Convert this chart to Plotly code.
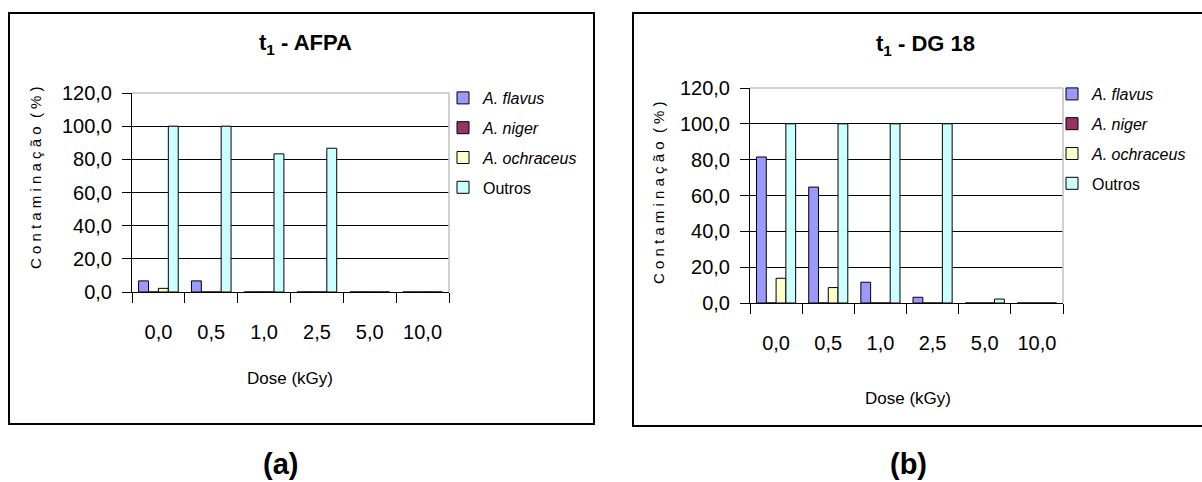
import plotly.graph_objects as go

# ---- data ----
doses = ["0,0", "0,5", "1,0", "2,5", "5,0", "10,0"]
series_names = ["<i>A. flavus</i>", "<i>A. niger</i>", "<i>A. ochraceus</i>", "Outros"]
series_colors = ["#9999FF", "#993366", "#FFFFCC", "#CCFFFF"]

# (a) t1 - AFPA
afpa_flavus = [6.7, 6.7, 0.0, 0.0, 0.0, 0.0]
afpa_niger = [0.0, 0.0, 0.0, 0.0, 0.0, 0.0]
afpa_ochraceus = [2.2, 0.0, 0.0, 0.0, 0.0, 0.0]
afpa_outros = [100.0, 100.0, 83.3, 86.7, 0.0, 0.0]

# (b) t1 - DG 18
dg18_flavus = [81.5, 64.7, 11.6, 3.2, 0.0, 0.0]
dg18_niger = [0.0, 0.0, 0.0, 0.0, 0.0, 0.0]
dg18_ochraceus = [13.8, 8.6, 0.0, 0.0, 0.0, 0.0]
dg18_outros = [100.0, 100.0, 100.0, 100.0, 2.2, 0.0]

y_ticks = [0, 20, 40, 60, 80, 100, 120]

titles = ["t<sub>1</sub> - AFPA", "t<sub>1</sub> - DG 18"]
captions = ["(a)", "(b)"]
x_title = "Dose (kGy)"
y_title = "C o n t a m i n a ç ã o  ( % )"

FONT = "Liberation Sans, Arial, sans-serif"
W, H = 1202, 482


def px(x):
    return x / W


def py(y):
    return 1 - y / H


fig = go.Figure()

panels = [
    (dict(xa="x", ya="y", leg="legend"),
     [afpa_flavus, afpa_niger, afpa_ochraceus, afpa_outros]),
    (dict(xa="x2", ya="y2", leg="legend2"),
     [dg18_flavus, dg18_niger, dg18_ochraceus, dg18_outros]),
]

for p, (ref, data) in enumerate(panels):
    for i, vals in enumerate(data):
        fig.add_trace(go.Bar(
            x=doses, y=vals, name=series_names[i],
            marker=dict(color=series_colors[i], line=dict(color="black", width=1)),
            xaxis=ref["xa"], yaxis=ref["ya"], legend=ref["leg"],
            legendgroup=f"p{p}s{i}",
        ))

axis_common_x = dict(
    type="category", showline=True, linecolor="black", linewidth=1,
    ticks="outside", tickson="boundaries", ticklen=10, tickcolor="black",
    tickwidth=1, showgrid=False, zeroline=False, automargin=False,
    tickfont=dict(family=FONT, size=20, color="black"),
    ticklabelstandoff=22,
)
axis_common_y = dict(
    range=[0, 120], tickvals=y_ticks, tickformat=".1f",
    showline=True, linecolor="black", linewidth=1,
    ticks="outside", ticklen=9, tickcolor="black", tickwidth=1,
    showgrid=True, gridcolor="black", gridwidth=1, zeroline=False,
    automargin=False,
    tickfont=dict(family=FONT, size=20, color="black"),
    ticklabelstandoff=6,
)

# plot-area geometry (pixels)
plots = [
    dict(x0=132, x1=449, y0=93, y1=292),
    dict(x0=750, x1=1063, y0=88, y1=303),
]

fig.update_layout(
    xaxis=dict(domain=[px(plots[0]["x0"]), px(plots[0]["x1"])], anchor="y", **axis_common_x),
    yaxis=dict(domain=[py(plots[0]["y1"]), py(plots[0]["y0"])], anchor="x", **axis_common_y),
    xaxis2=dict(domain=[px(plots[1]["x0"]), px(plots[1]["x1"])], anchor="y2", **axis_common_x),
    yaxis2=dict(domain=[py(plots[1]["y1"]), py(plots[1]["y0"])], anchor="x2", **axis_common_y),
)

legend_common = dict(
    xanchor="left", yanchor="top",
    font=dict(family=FONT, size=16, color="black"),
    bgcolor="rgba(0,0,0,0)", tracegroupgap=6, itemwidth=30,
    traceorder="grouped",
)

fig.update_layout(
    width=W, height=H, margin=dict(l=0, r=0, t=0, b=0),
    paper_bgcolor="white", plot_bgcolor="white",
    separators=",.",
    barmode="group", bargap=0.25, bargroupgap=0.0,
    font=dict(family=FONT, color="black"),
    legend=dict(x=px(443), y=py(81), **legend_common),
    legend2=dict(x=px(1052), y=py(77), **legend_common),
)

shapes = []
# outer frames
shapes.append(dict(type="rect", xref="paper", yref="paper",
                   x0=px(9), x1=px(594), y0=py(424), y1=py(13),
                   line=dict(color="black", width=2), layer="below"))
shapes.append(dict(type="rect", xref="paper", yref="paper",
                   x0=px(633), x1=px(1210), y0=py(426), y1=py(13),
                   line=dict(color="black", width=2), layer="below"))
# gray top / right border of plot areas
for xa, ya in [("x", "y"), ("x2", "y2")]:
    shapes.append(dict(type="line", xref=f"{xa} domain", yref=f"{ya} domain",
                       x0=0, x1=1, y0=1, y1=1,
                       line=dict(color="#C0C0C0", width=1.5), layer="above"))
    shapes.append(dict(type="line", xref=f"{xa} domain", yref=f"{ya} domain",
                       x0=1, x1=1, y0=0, y1=1,
                       line=dict(color="#C0C0C0", width=1.5), layer="above"))
fig.update_layout(shapes=shapes)


def note(text, x, y, size, angle=0):
    return dict(text=text, x=px(x), y=py(y), xref="paper", yref="paper",
                xanchor="center", yanchor="middle", textangle=angle,
                showarrow=False, font=dict(family=FONT, size=size, color="black"))


ann = [
    note(f"<b>{titles[0]}</b>", 305, 44, 22),
    note(f"<b>{titles[1]}</b>", 925, 45, 22),
    note(x_title, 290, 378, 17),
    note(x_title, 908, 398, 17),
    note(y_title, 35, 178, 15, -90),
    note(y_title, 658, 193, 15, -90),
    note(f"<b>{captions[0]}</b>", 280, 464, 29),
    note(f"<b>{captions[1]}</b>", 908, 464, 29),
]
fig.update_layout(annotations=ann)

fig.write_html(
    "out.html",
    config={"displayModeBar": False},
    post_script="document.body.style.margin='0';document.body.style.overflow='hidden';",
)
